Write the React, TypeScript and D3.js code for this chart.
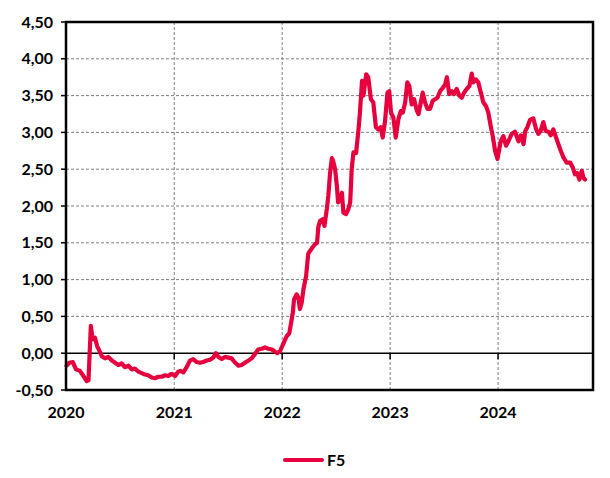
import React from 'react';
import * as d3 from 'd3';

// F5 series (date, value)
const dates: string[] = [
  '2020-01-03', '2020-01-12', '2020-01-24', '2020-02-04', '2020-02-17', '2020-02-29', '2020-03-11', '2020-03-17',
  '2020-03-25', '2020-03-31', '2020-04-08', '2020-04-15', '2020-04-23', '2020-05-01', '2020-05-12', '2020-05-23',
  '2020-06-04', '2020-06-15', '2020-06-26', '2020-07-07', '2020-07-19', '2020-07-30', '2020-08-10', '2020-08-21',
  '2020-09-02', '2020-09-13', '2020-09-24', '2020-10-05', '2020-10-17', '2020-10-28', '2020-11-08', '2020-11-20',
  '2020-12-01', '2020-12-12', '2020-12-23', '2021-01-04', '2021-01-15', '2021-01-21', '2021-02-01', '2021-02-12',
  '2021-02-23', '2021-03-06', '2021-03-18', '2021-03-29', '2021-04-09', '2021-04-21', '2021-05-02', '2021-05-13',
  '2021-05-22', '2021-05-30', '2021-06-11', '2021-06-22', '2021-07-03', '2021-07-14', '2021-07-26', '2021-08-06',
  '2021-08-17', '2021-08-28', '2021-09-09', '2021-09-20', '2021-10-01', '2021-10-12', '2021-10-24', '2021-11-04',
  '2021-11-15', '2021-11-27', '2021-12-08', '2021-12-16', '2021-12-25', '2022-01-05', '2022-01-16', '2022-01-25',
  '2022-02-06', '2022-02-10', '2022-02-19', '2022-02-25', '2022-03-02', '2022-03-08', '2022-03-14', '2022-03-23',
  '2022-03-30', '2022-04-05', '2022-04-14', '2022-04-22', '2022-04-29', '2022-05-03', '2022-05-09', '2022-05-18',
  '2022-05-24', '2022-06-01', '2022-06-06', '2022-06-12', '2022-06-18', '2022-06-22', '2022-06-29', '2022-07-05',
  '2022-07-09', '2022-07-16', '2022-07-22', '2022-07-27', '2022-08-05', '2022-08-13', '2022-08-19', '2022-08-24',
  '2022-08-30', '2022-09-08', '2022-09-16', '2022-09-21', '2022-09-28', '2022-10-03', '2022-10-12', '2022-10-19',
  '2022-10-28', '2022-11-05', '2022-11-14', '2022-11-22', '2022-11-30', '2022-12-07', '2022-12-15', '2022-12-23',
  '2022-12-29', '2023-01-04', '2023-01-12', '2023-01-20', '2023-01-29', '2023-02-06', '2023-02-13', '2023-02-21',
  '2023-02-28', '2023-03-07', '2023-03-15', '2023-03-23', '2023-04-01', '2023-04-07', '2023-04-15', '2023-04-21',
  '2023-04-29', '2023-05-07', '2023-05-16', '2023-05-25', '2023-06-02', '2023-06-10', '2023-06-19', '2023-06-27',
  '2023-07-06', '2023-07-12', '2023-07-20', '2023-07-29', '2023-08-05', '2023-08-14', '2023-08-23', '2023-08-31',
  '2023-09-08', '2023-09-17', '2023-09-26', '2023-10-04', '2023-10-09', '2023-10-18', '2023-10-26', '2023-11-04',
  '2023-11-12', '2023-11-21', '2023-11-29', '2023-12-07', '2023-12-14', '2023-12-22', '2023-12-30', '2024-01-10',
  '2024-01-19', '2024-01-28', '2024-02-05', '2024-02-16', '2024-02-27', '2024-03-10', '2024-03-18', '2024-03-27',
  '2024-04-02', '2024-04-09', '2024-04-18', '2024-04-29', '2024-05-09', '2024-05-16', '2024-05-24', '2024-06-02',
  '2024-06-10', '2024-06-19', '2024-06-27', '2024-07-06', '2024-07-15', '2024-07-23', '2024-07-31', '2024-08-09',
  '2024-08-20', '2024-09-01', '2024-09-10', '2024-09-17', '2024-09-24', '2024-10-02', '2024-10-10', '2024-10-16',
  '2024-10-21',
];

const values: number[] = [
  -0.17, -0.13, -0.12, -0.22, -0.24, -0.31, -0.38, -0.37,
  0.37, 0.19, 0.21, 0.1, 0.03, -0.04, -0.07, -0.05,
  -0.1, -0.13, -0.16, -0.14, -0.19, -0.17, -0.22, -0.21,
  -0.25, -0.27, -0.29, -0.3, -0.33, -0.34, -0.32, -0.32,
  -0.3, -0.31, -0.28, -0.31, -0.25, -0.24, -0.26, -0.19,
  -0.1, -0.08, -0.12, -0.13, -0.12, -0.1, -0.09, -0.06,
  0.0, -0.05, -0.08, -0.05, -0.06, -0.07, -0.13, -0.17,
  -0.16, -0.13, -0.1, -0.07, -0.01, 0.05, 0.06, 0.08,
  0.06, 0.05, 0.02, 0.0, 0.03, 0.13, 0.23, 0.27,
  0.55, 0.73, 0.8, 0.75, 0.6, 0.69, 0.87, 1.05,
  1.35, 1.39, 1.44, 1.48, 1.5, 1.71, 1.8, 1.82,
  1.73, 1.96, 2.14, 2.45, 2.65, 2.62, 2.5, 2.27,
  2.05, 2.08, 2.18, 1.91, 1.89, 1.96, 2.05, 2.5,
  2.73, 2.72, 3.04, 3.27, 3.7, 3.5, 3.79, 3.75,
  3.45, 3.41, 3.07, 3.04, 3.07, 2.93, 3.16, 3.54,
  3.56, 3.27, 3.2, 2.93, 3.18, 3.29, 3.27, 3.41,
  3.68, 3.63, 3.38, 3.45, 3.3, 3.25, 3.41, 3.54,
  3.41, 3.32, 3.32, 3.43, 3.45, 3.47, 3.56, 3.6,
  3.65, 3.75, 3.52, 3.56, 3.52, 3.59, 3.5, 3.47,
  3.54, 3.59, 3.63, 3.8, 3.68, 3.72, 3.68, 3.54,
  3.41, 3.36, 3.27, 3.09, 2.95, 2.75, 2.64, 2.88,
  2.95, 2.82, 2.88, 2.98, 3.01, 2.88, 2.96, 2.84,
  3.02, 3.07, 3.17, 3.19, 3.04, 2.98, 3.02, 3.14,
  3.02, 3.01, 2.96, 3.04, 2.93, 2.84, 2.75, 2.66,
  2.59, 2.59, 2.52, 2.43, 2.45, 2.36, 2.48, 2.38,
  2.36,
];

const yTicks: number[] = [-0.5, 0, 0.5, 1, 1.5, 2, 2.5, 3, 3.5, 4, 4.5];
const yearTicks: string[] = ['2020', '2021', '2022', '2023', '2024'];
const seriesName = 'F5';

const width = 610;
const height = 478;
const margin = { top: 22, right: 17, bottom: 88, left: 66 };
const red = '#e6003e';
const font = 'Lato, "DejaVu Sans", sans-serif';

const parse = d3.timeParse('%Y-%m-%d');

export default function App() {
  const data = dates.map((d, i) => ({ date: parse(d) as Date, value: values[i] }));

  const x = d3.scaleTime()
    .domain([parse('2020-01-01') as Date, parse('2024-11-17') as Date])
    .range([margin.left, width - margin.right]);

  const y = d3.scaleLinear()
    .domain([-0.5, 4.5])
    .range([height - margin.bottom, margin.top]);

  const line = d3.line<{ date: Date; value: number }>()
    .x(d => x(d.date))
    .y(d => y(d.value));

  const fmt = (v: number) => v.toFixed(2).replace('.', ',');
  const x0 = margin.left;
  const x1 = width - margin.right;
  const yTop = y(4.5);
  const yBot = y(-0.5);

  return (
    <svg width={width} height={height} style={{ position: 'absolute', left: 0, top: 0, background: '#fff' }}>
      {/* horizontal grid */}
      {yTicks.filter(t => t !== 0 && t !== -0.5 && t !== 4.5).map(t => (
        <line key={'h' + t} x1={x0} x2={x1} y1={y(t)} y2={y(t)} stroke="#808080" strokeWidth={1} strokeDasharray="3,2" />
      ))}
      {/* vertical grid */}
      {yearTicks.slice(1).map(yr => {
        const px = x(parse(`${yr}-01-01`) as Date);
        return <line key={'v' + yr} x1={px} x2={px} y1={yTop} y2={yBot} stroke="#808080" strokeWidth={1} strokeDasharray="3,2" />;
      })}
      {/* zero axis with ticks */}
      <line x1={x0} x2={x1} y1={y(0)} y2={y(0)} stroke="#000" strokeWidth={1.5} />
      {yearTicks.slice(1).map(yr => {
        const px = x(parse(`${yr}-01-01`) as Date);
        return <line key={'zt' + yr} x1={px} x2={px} y1={y(0)} y2={y(0) + 6} stroke="#000" strokeWidth={1.5} />;
      })}
      {/* series */}
      <path d={line(data) ?? ''} fill="none" stroke={red} strokeWidth={4.2} strokeLinejoin="round" strokeLinecap="round" />
      {/* frame */}
      <rect x={x0} y={yTop} width={x1 - x0} height={yBot - yTop} fill="none" stroke="#000" strokeWidth={2.5} />
      {/* y ticks and labels */}
      {yTicks.map(t => (
        <g key={'y' + t}>
          <line x1={x0 - 5} x2={x0} y1={y(t)} y2={y(t)} stroke="#000" strokeWidth={1.5} />
          <text x={x0 - 13} y={y(t)} dy="0.35em" textAnchor="end" fontFamily={font} fontWeight={700} fontSize={16} fill="#000">
            {fmt(t)}
          </text>
        </g>
      ))}
      {/* x labels */}
      {yearTicks.map(yr => (
        <text key={'x' + yr} x={x(parse(`${yr}-01-01`) as Date)} y={yBot + 28} textAnchor="middle" fontFamily={font} fontWeight={700} fontSize={16} fill="#000">
          {yr}
        </text>
      ))}
      {/* legend */}
      <line x1={285} x2={322} y1={460} y2={460} stroke={red} strokeWidth={4} strokeLinecap="round" />
      <text x={327} y={460} dy="0.35em" fontFamily={font} fontWeight={700} fontSize={16} fill="#000">{seriesName}</text>
    </svg>
  );
}
